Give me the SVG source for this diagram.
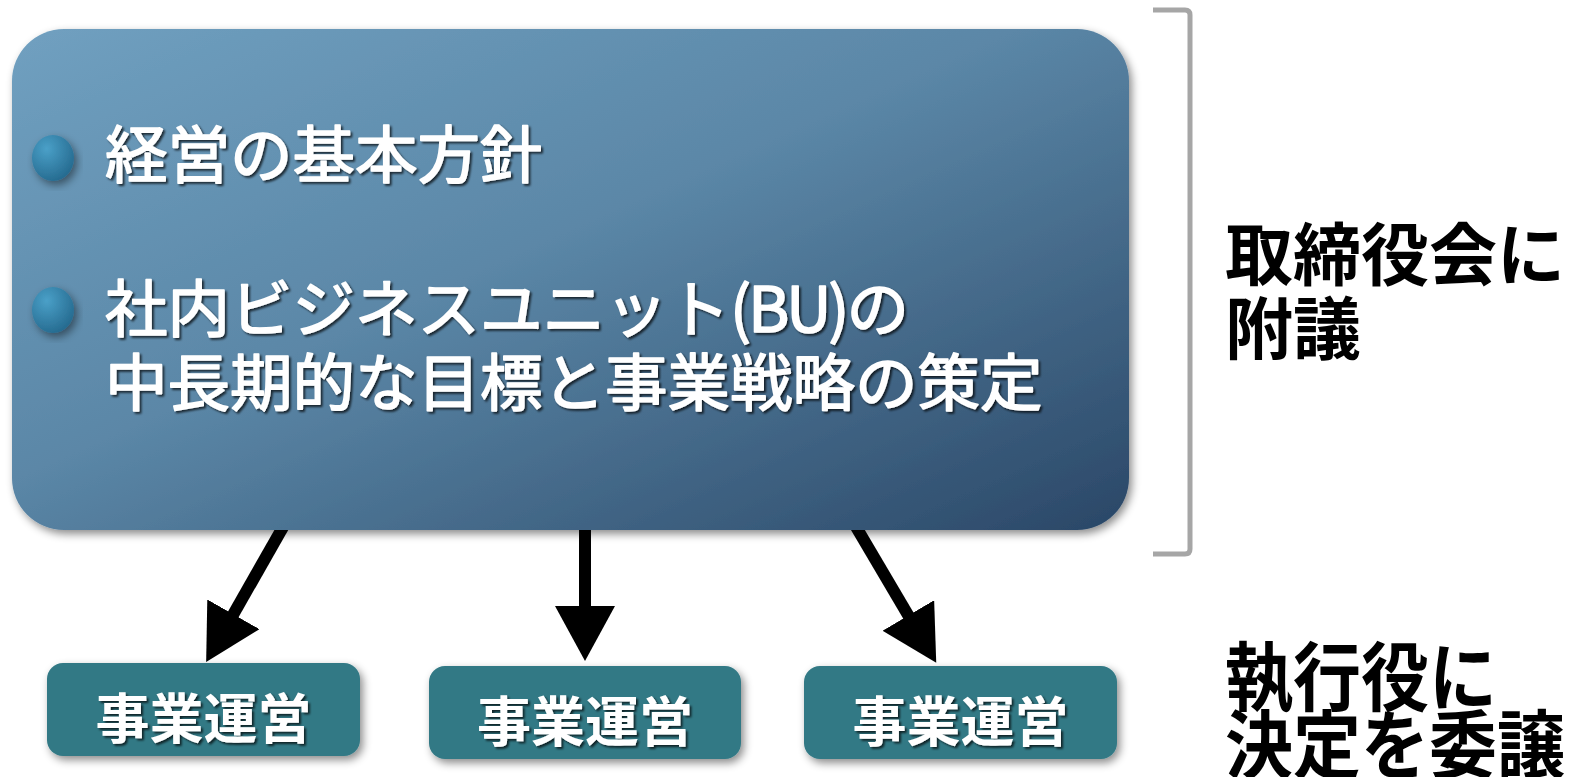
<svg xmlns="http://www.w3.org/2000/svg" width="1581" height="777" viewBox="0 0 1581 777">
<defs>
<linearGradient id="gMain" x1="0" y1="0" x2="1" y2="1">
<stop offset="0" stop-color="#70a0c0"/>
<stop offset="0.45" stop-color="#5b87a7"/>
<stop offset="1" stop-color="#2a4767"/>
</linearGradient>
<radialGradient id="gBullet" cx="0.35" cy="0.3" r="0.75">
<stop offset="0" stop-color="#4aa0c8"/>
<stop offset="1" stop-color="#256a8f"/>
</radialGradient>
<filter id="boxShadow" x="-10%" y="-10%" width="130%" height="130%">
<feDropShadow dx="3" dy="4" stdDeviation="4" flood-color="#000" flood-opacity="0.45"/>
</filter>
<filter id="txtShadow" x="-5%" y="-20%" width="115%" height="150%">
<feDropShadow dx="2" dy="2" stdDeviation="1" flood-color="#000" flood-opacity="0.7"/>
</filter>
<marker id="head" viewBox="0 0 55 60" refX="25" refY="30" markerWidth="55" markerHeight="60" markerUnits="userSpaceOnUse" orient="auto">
<path d="M0,0 L55,30 L0,60 Z" fill="#000"/>
</marker>
</defs>
<style>
.wt{font-family:"Noto Sans CJK JP","Noto Sans",sans-serif;fill:#fff;font-weight:700}
.mt{font-weight:400;stroke:#fff;stroke-width:1.6;stroke-linejoin:round}
.bt{font-family:"Noto Sans CJK JP","Noto Sans",sans-serif;fill:#000;font-weight:700;font-size:68px}
.sub{fill:#337985}
.conn{stroke:#000;stroke-width:12;fill:none}
</style>
<g id="connectors">
<line class="conn" x1="287" y1="520" x2="221" y2="636" marker-end="url(#head)"/>
<line class="conn" x1="585" y1="520" x2="585" y2="631" marker-end="url(#head)"/>
<line class="conn" x1="852" y1="520" x2="921" y2="637" marker-end="url(#head)"/>
</g>
<g id="main">
<rect x="12" y="29" width="1117" height="501" rx="52" fill="url(#gMain)" filter="url(#boxShadow)"/>
<ellipse cx="53" cy="158" rx="21" ry="23" fill="url(#gBullet)" filter="url(#boxShadow)"/>
<ellipse cx="53" cy="310" rx="21" ry="23" fill="url(#gBullet)" filter="url(#boxShadow)"/>
<g class="wt mt" font-size="62.5" filter="url(#txtShadow)">
<text x="105" y="178">経営の基本方針</text>
<text x="105" y="332">社内ビジネスユニット<tspan letter-spacing="-3">(BU)</tspan>の</text>
<text x="105" y="406">中長期的な目標と事業戦略の策定</text>
</g>
</g>
<g id="bracket">
<path d="M1153,10 H1185 Q1190,10 1190,15 V549 Q1190,554 1185,554 H1153" fill="none" stroke="#a6a6a6" stroke-width="5"/>
</g>
<g id="board-label">
<text class="bt" x="1225" y="280">取締役会に</text>
<text class="bt" x="1225" y="354">附議</text>
</g>
<g id="unit1">
<rect class="sub" x="47" y="663" width="313" height="93" rx="16" filter="url(#boxShadow)"/>
<text class="wt" x="203.5" y="739" font-size="54" text-anchor="middle" filter="url(#txtShadow)">事業運営</text>
</g>
<g id="unit2">
<rect class="sub" x="429" y="666" width="312" height="93" rx="16" filter="url(#boxShadow)"/>
<text class="wt" x="585" y="742" font-size="54" text-anchor="middle" filter="url(#txtShadow)">事業運営</text>
</g>
<g id="unit3">
<rect class="sub" x="804" y="666" width="313" height="93" rx="16" filter="url(#boxShadow)"/>
<text class="wt" x="960.5" y="742" font-size="54" text-anchor="middle" filter="url(#txtShadow)">事業運営</text>
</g>
<g id="exec-label" transform="scale(1,1.1)">
<text class="bt" x="1225" y="641">執行役に</text>
<text class="bt" x="1225" y="703">決定を委譲</text>
</g>
</svg>
